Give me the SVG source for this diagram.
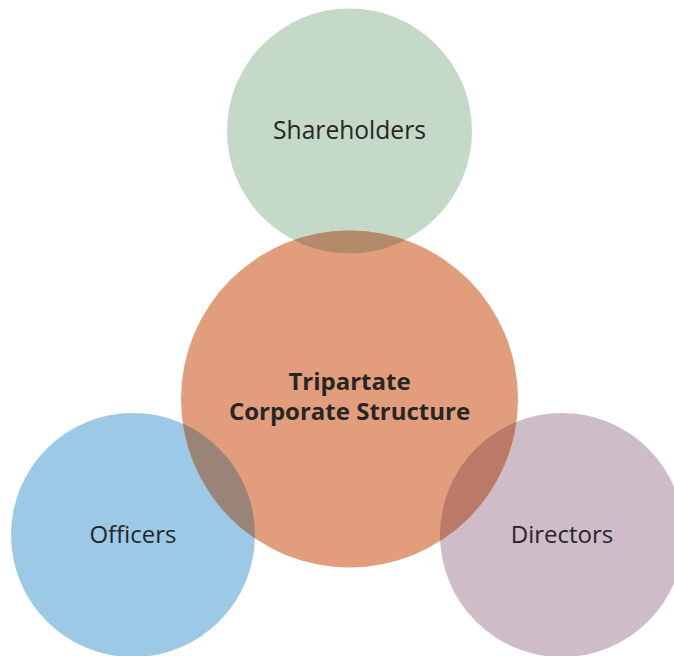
<svg xmlns="http://www.w3.org/2000/svg" width="674" height="656" viewBox="0 0 674 656">
<style>
.lbl{font-family:"Open Sans","Noto Sans","Liberation Sans",sans-serif;font-size:24px;fill:#262626;text-anchor:middle}
.ttl{font-family:"Open Sans","Noto Sans","Liberation Sans",sans-serif;font-size:24px;font-weight:bold;fill:#262626;text-anchor:middle}
</style>
<defs>
<clipPath id="cC"><circle cx="349.5" cy="399" r="168.5"/></clipPath>
</defs>
<rect width="674" height="656" fill="#ffffff"/>
<g id="shareholders">
<circle cx="349.5" cy="131" r="122.5" fill="#c4d9c8"/>
</g>
<g id="officers">
<circle cx="133" cy="535" r="122" fill="#9ccae6"/>
</g>
<g id="directors">
<circle cx="562" cy="535" r="122" fill="#cebcc8"/>
</g>
<g id="center">
<circle cx="349.5" cy="399" r="168.5" fill="#e29e7c"/>
<g clip-path="url(#cC)">
<circle cx="349.5" cy="131" r="122.5" fill="#b38a6a"/>
<circle cx="133" cy="535" r="122" fill="#9a8478"/>
<circle cx="562" cy="535" r="122" fill="#bb7a68"/>
</g>
<text class="ttl" x="349.5" y="390">Tripartate</text>
<text class="ttl" x="349.5" y="420">Corporate Structure</text>
</g>
<g id="labels">
<text class="lbl" x="349.5" y="139" style="font-size:24.6px">Shareholders</text>
<text class="lbl" x="133" y="543">Officers</text>
<text class="lbl" x="562" y="543">Directors</text>
</g>
<g id="connectors"/>
</svg>
